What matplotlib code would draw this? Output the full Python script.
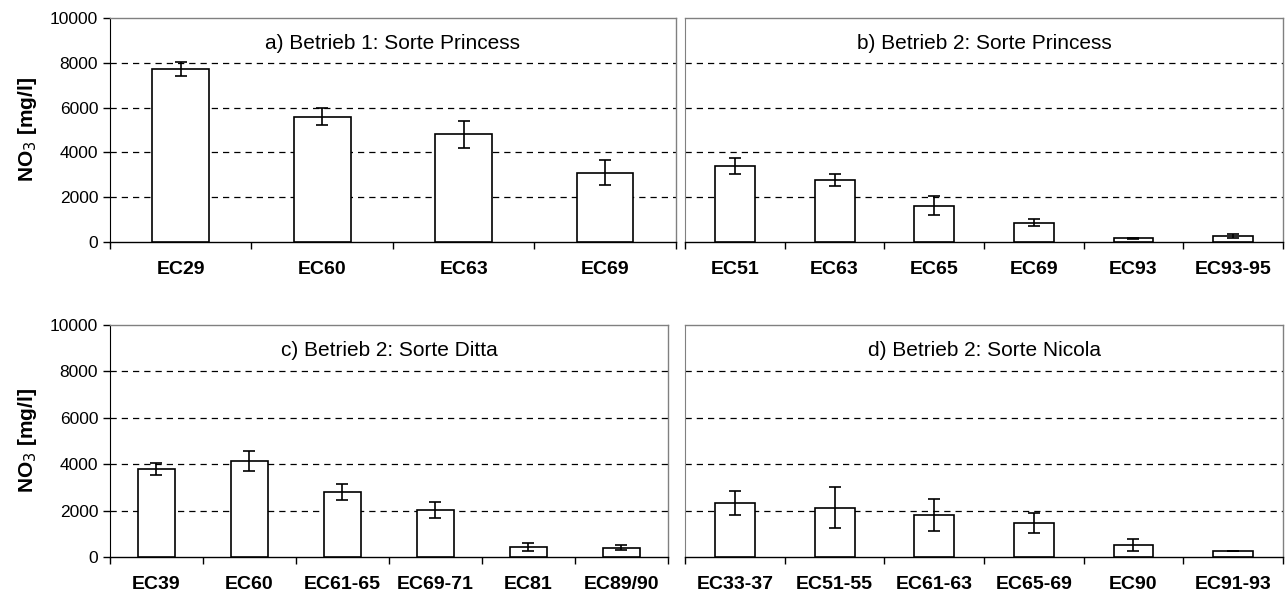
import numpy as np
import matplotlib.pyplot as plt

plt.rcParams['font.family'] = ['Liberation Sans', 'DejaVu Sans']

# a) Betrieb 1: Sorte Princess
cats_a = ["EC29", "EC60", "EC63", "EC69"]
vals_a = [7730, 5600, 4810, 3100]
err_a = [320, 390, 610, 555]

# b) Betrieb 2: Sorte Princess
cats_b = ["EC51", "EC63", "EC65", "EC69", "EC93", "EC93-95"]
vals_b = [3400, 2780, 1620, 850, 160, 265]
err_b = [350, 265, 430, 155, 35, 90]

# c) Betrieb 2: Sorte Ditta
cats_c = ["EC39", "EC60", "EC61-65", "EC69-71", "EC81", "EC89/90"]
vals_c = [3790, 4120, 2810, 2020, 440, 400]
err_c = [270, 430, 345, 330, 185, 115]

# d) Betrieb 2: Sorte Nicola
cats_d = ["EC33-37", "EC51-55", "EC61-63", "EC65-69", "EC90", "EC91-93"]
vals_d = [2320, 2120, 1810, 1460, 530, 260]
err_d = [520, 880, 700, 430, 265, 15]

titles = ["a) Betrieb 1: Sorte Princess", "b) Betrieb 2: Sorte Princess",
          "c) Betrieb 2: Sorte Ditta", "d) Betrieb 2: Sorte Nicola"]

fig = plt.figure(figsize=(12.88, 5.99), dpi=100)

# Achsenpositionen [links, unten, breite, hoehe]
rects = [
    [0.0854, 0.596, 0.4394, 0.374],
    [0.532, 0.596, 0.464, 0.374],
    [0.0854, 0.0701, 0.4332, 0.3873],
    [0.532, 0.0701, 0.464, 0.3873],
]
panels = [(cats_a, vals_a, err_a), (cats_b, vals_b, err_b),
          (cats_c, vals_c, err_c), (cats_d, vals_d, err_d)]

for k, ((cats, vals, errs), rect, title) in enumerate(zip(panels, rects, titles)):
    ax = fig.add_axes(rect)
    x = np.arange(len(cats))
    ax.bar(x, vals, width=0.4, color='white', edgecolor='black', linewidth=1.2, zorder=3)
    ax.errorbar(x, vals, yerr=errs, fmt='none', ecolor='black', elinewidth=1.2,
                capsize=4, capthick=1.2, zorder=4)

    ax.set_ylim(0, 10000)
    ax.set_xlim(-0.5, len(cats) - 0.5)
    ax.set_yticks([0, 2000, 4000, 6000, 8000, 10000])
    for yv in [2000, 4000, 6000, 8000]:
        ax.axhline(yv, color='black', linestyle=(0, (5, 4)), linewidth=0.9, zorder=1)

    # Kategorien-Beschriftung mittig, Ticks an den Grenzen
    ax.set_xticks(x)
    ax.set_xticklabels(cats, fontsize=14, fontweight='bold')
    ax.tick_params(axis='x', which='major', length=0, pad=14)
    ax.set_xticks(np.arange(len(cats) + 1) - 0.5, minor=True)
    ax.tick_params(axis='x', which='minor', length=5, width=1, direction='out')

    for s in ['top', 'right']:
        ax.spines[s].set_color('#808080')
        ax.spines[s].set_linewidth(1.0)
    ax.spines['bottom'].set_color('black')
    ax.spines['bottom'].set_linewidth(1.0)

    if k % 2 == 0:
        ax.spines['left'].set_color('black')
        ax.tick_params(axis='y', labelsize=12.5, length=5, width=1)
        ax.set_ylabel("NO$_3$ [mg/l]", fontsize=15, fontweight='bold', labelpad=8)
    else:
        ax.spines['left'].set_color('#808080')
        ax.tick_params(axis='y', length=0, labelleft=False)

    ax.text(0.5, 0.93, title, transform=ax.transAxes, ha='center', va='top', fontsize=15)

fig.savefig("out.png", dpi=100)
